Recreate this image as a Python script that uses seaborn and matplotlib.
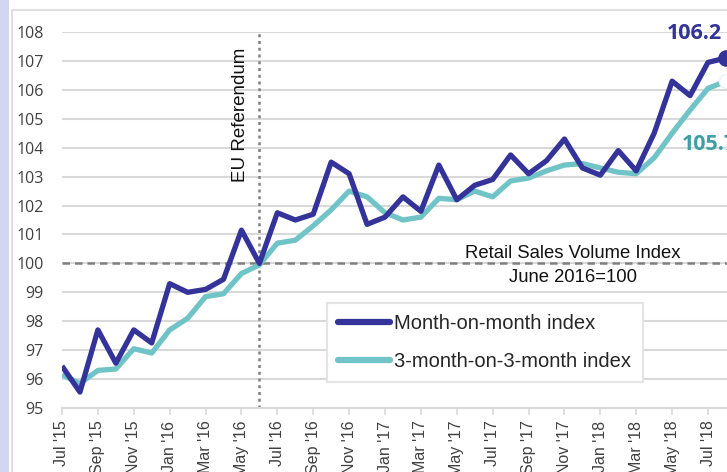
import matplotlib
matplotlib.use("Agg")
import matplotlib.pyplot as plt
import seaborn as sns
import pandas as pd
import numpy as np
from matplotlib.patches import Rectangle
from matplotlib.lines import Line2D

months = ["Jul '15", "Aug '15", "Sep '15", "Oct '15", "Nov '15", "Dec '15",
          "Jan '16", "Feb '16", "Mar '16", "Apr '16", "May '16", "Jun '16",
          "Jul '16", "Aug '16", "Sep '16", "Oct '16", "Nov '16", "Dec '16",
          "Jan '17", "Feb '17", "Mar '17", "Apr '17", "May '17", "Jun '17",
          "Jul '17", "Aug '17", "Sep '17", "Oct '17", "Nov '17", "Dec '17",
          "Jan '18", "Feb '18", "Mar '18", "Apr '18", "May '18", "Jun '18",
          "Jul '18", "Aug '18"]

mom = [96.45, 95.55, 97.7, 96.55, 97.7, 97.25,
       99.3, 99.0, 99.1, 99.45, 101.15, 100.0,
       101.75, 101.5, 101.7, 103.5, 103.1, 101.35,
       101.6, 102.3, 101.8, 103.4, 102.2, 102.7,
       102.9, 103.75, 103.1, 103.55, 104.3, 103.3,
       103.05, 103.9, 103.2, 104.5, 106.3, 105.8,
       106.95, 107.1]

three_m = [96.15, 95.85, 96.3, 96.35, 97.05, 96.9,
           97.7, 98.1, 98.85, 98.95, 99.65, 99.95,
           100.7, 100.8, 101.3, 101.85, 102.5, 102.3,
           101.75, 101.5, 101.6, 102.25, 102.2, 102.5,
           102.3, 102.85, 102.95, 103.2, 103.4, 103.45,
           103.3, 103.15, 103.1, 103.65, 104.5, 105.3,
           106.05, 106.3]

series_names = ["Month-on-month index", "3-month-on-3-month index"]
end_labels = ["106.2", "105.7"]
ref_index = 11          # Jun '16 (EU referendum)
base_value = 100
yticks = list(range(95, 109))

dark = "#333399"
teal = "#70c3c6"
teal_text = "#3f9fa2"

sns.set_theme(style="white")
plt.rcParams['font.family'] = ['Liberation Sans', 'DejaVu Sans']

W, H = 727, 472
fig = plt.figure(figsize=(W / 100, H / 100), dpi=100)
fig.patch.set_facecolor("white")

# left lavender strip and outer chart border
fig.patches.append(Rectangle((0, 0), 9 / W, 1, transform=fig.transFigure,
                             facecolor="#d3d6f2", edgecolor="none", zorder=0))
fig.patches.append(Rectangle((12 / W, -0.1), 1.2, (472 - 10) / H + 0.1,
                             transform=fig.transFigure, facecolor="none",
                             edgecolor="#d9d9d9", linewidth=1.2, zorder=1))

px_month = (708 - 62) / 36
x0_px = 62
xmax = 38.5
ax = fig.add_axes([x0_px / W, (H - 408) / H, (xmax * px_month) / W, (408 - 32) / H])
ax.set_facecolor("none")

x = np.arange(len(months))
df = pd.DataFrame({"x": np.concatenate([x, x]),
                   "value": mom + three_m,
                   "series": [series_names[0]] * len(x) + [series_names[1]] * len(x)})

sns.lineplot(data=df, x="x", y="value", hue="series",
             palette={series_names[0]: dark, series_names[1]: teal},
             hue_order=[series_names[1], series_names[0]],
             linewidth=3.8, ax=ax, legend=False, sort=False,
             solid_joinstyle="round", solid_capstyle="butt", zorder=3)

ax.set_xlim(0, xmax)
ax.set_ylim(95, 108)

# gridlines
ax.set_yticks(yticks)
ax.grid(axis="y", color="#d9d9d9", linewidth=1.5, zorder=0)
ax.grid(axis="x", visible=False)
for s in ["top", "right", "left"]:
    ax.spines[s].set_visible(False)
ax.spines["bottom"].set_color("#d9d9d9")
ax.spines["bottom"].set_linewidth(1.5)

ax.set_yticklabels([str(v) for v in yticks], fontsize=11.5, color="#404040",
                   family=["Open Sans", "DejaVu Sans"])
ax.tick_params(axis="y", length=0, pad=13)
ax.set_xticks(x[::2])
ax.set_xticklabels(months[::2], rotation=90, fontsize=11.5, color="#404040",
                   va="top")
ax.tick_params(axis="x", length=5, width=1.2, color="#d9d9d9", pad=4, bottom=True)
ax.set_xlabel("")
ax.set_ylabel("")

# reference lines
ax.axhline(base_value, color="#808080", linestyle=(0, (3, 2)), linewidth=1.8, zorder=2)
ax.plot([ref_index, ref_index], [95, 108], color="#808080",
        linestyle=(0, (1.2, 1.5)), linewidth=1.8, zorder=2, clip_on=False)

ax.text(ref_index - 1.05, 105.15, "EU Referendum", rotation=90, fontsize=13.5,
        ha="center", va="center", color="#111111")
ax.text(28.45, 100.05, "Retail Sales Volume Index", fontsize=13.3, ha="center",
        va="bottom", color="#111111")
ax.text(28.45, 99.5, "June 2016=" + str(base_value), fontsize=13.3, ha="center",
        va="center", color="#111111")

# end markers and labels
ax.plot([x[-1]], [mom[-1]], marker="o", markersize=11, color=dark, zorder=5,
        clip_on=False)
ax.plot([x[-1]], [three_m[-1]], marker="o", markersize=10, markerfacecolor="white",
        markeredgecolor="#e8f4f5", markeredgewidth=1, zorder=5, clip_on=False)
ax.text(x[-1] - 0.2, mom[-1] + 0.5, end_labels[0], fontsize=15.5, fontweight="bold",
        color=dark, ha="right", va="bottom", family=["Open Sans", "DejaVu Sans"])
ax.text(x[-1] - 2.45, three_m[-1] - 2.2, end_labels[1], fontsize=15.5, fontweight="bold",
        color=teal_text, ha="left", va="center", family=["Open Sans", "DejaVu Sans"])

# legend
handles = [Line2D([0], [0], color=dark, linewidth=4.5, solid_capstyle="round"),
           Line2D([0], [0], color=teal, linewidth=4.5, solid_capstyle="round")]
leg = fig.legend(handles, series_names, loc="upper left",
                 bbox_to_anchor=(327 / W, 1 - 303 / H), fontsize=14.5,
                 frameon=True, fancybox=False, handlelength=2.6,
                 labelspacing=0.95, borderpad=0.55, handletextpad=0.2,
                 borderaxespad=0)
leg.get_frame().set_edgecolor("#e4e4e4")
leg.get_frame().set_linewidth(1.5)
leg.get_frame().set_facecolor("white")
leg.get_frame().set_alpha(1)

fig.savefig("out.png", dpi=100)
